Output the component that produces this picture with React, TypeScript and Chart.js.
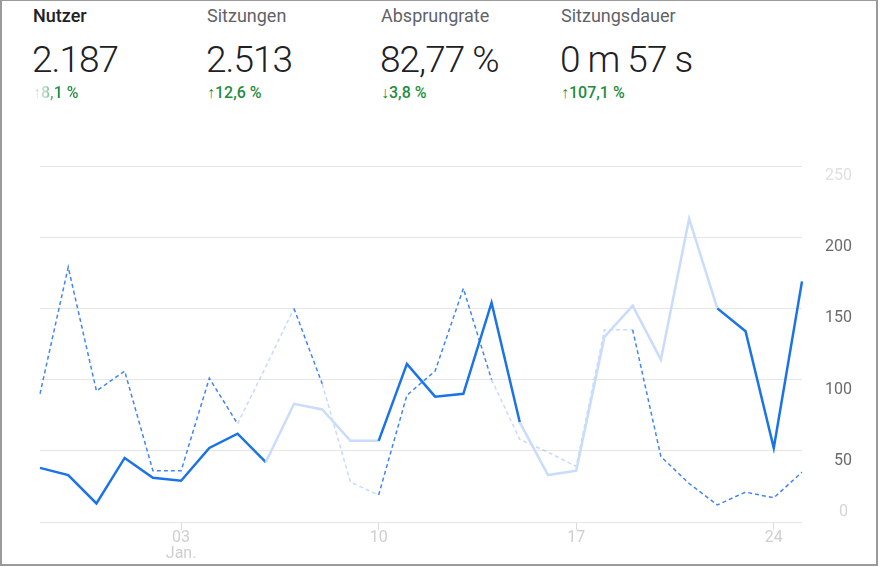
import React, { useEffect, useRef } from "react";
import { Chart, registerables } from "chart.js";

Chart.register(...registerables);

// ---- data ----
const days = [
  "29.12", "30.12", "31.12", "01.01", "02.01", "03.01", "04.01", "05.01", "06.01", "07.01",
  "08.01", "09.01", "10.01", "11.01", "12.01", "13.01", "14.01", "15.01", "16.01", "17.01",
  "18.01", "19.01", "20.01", "21.01", "22.01", "23.01", "24.01", "25.01",
];
const users = [38, 33, 13, 45, 31, 29, 52, 62, 42, 83, 79, 57, 57, 111, 88, 90, 154, 70, 33, 36, 130, 152, 114, 213, 150, 134, 52, 169];
const usersPrev = [90, 179, 92, 106, 36, 36, 101, 69, 109, 150, 97, 28, 19, 89, 106, 164, 100, 58, 49, 39, 135, 135, 46, 27, 12, 21, 17, 35];
const xTickLabels: (string | string[])[] = [
  "", "", "", "", "", ["03", "Jan."], "", "", "", "", "", "", "10", "", "", "", "", "", "", "17",
  "", "", "", "", "", "", "24", "",
];
const yTicks = [0, 50, 100, 150, 200, 250];

const kpiLabels = ["Nutzer", "Sitzungen", "Absprungrate", "Sitzungsdauer"];
const kpiValues = ["2.187", "2.513", "82,77 %", "0 m 57 s"];
const kpiChanges = ["↑8,1 %", "↑12,6 %", "↓3,8 %", "↑107,1 %"];

// ---- styles (fading of segments, as in the screenshot) ----
const fadedUsers = new Set([8, 9, 10, 11, 17, 18, 19, 20, 21, 22, 23]);
const fadedPrev = new Set([7, 8, 10, 11, 16, 17, 18, 19, 20]);
const kpiX = [33, 207, 381, 561];

const FONT = "Roboto, 'Noto Sans', sans-serif";
const GREEN = "#1e8e3e";

export default function App() {
  const ref = useRef<HTMLCanvasElement | null>(null);

  useEffect(() => {
    if (!ref.current) return;
    const zeroLabel = {
      id: "zeroLabel",
      afterDraw(chart: any) {
        const s = chart.scales.y;
        const ctx = chart.ctx;
        ctx.save();
        ctx.font = `16px ${FONT}`;
        ctx.fillStyle = "#d6d6d6";
        ctx.textAlign = "right";
        ctx.textBaseline = "middle";
        ctx.fillText(String(yTicks[0]), 848, s.getPixelForValue(yTicks[0]) - 10);
        ctx.restore();
      },
    };
    const chart = new Chart(ref.current, {
      type: "line",
      data: {
        labels: days,
        datasets: [
          {
            label: "Nutzer",
            data: users,
            borderColor: "#1a73e8",
            borderWidth: 2.5,
            pointRadius: 0,
            tension: 0,
            segment: {
              borderColor: (c: any) => (fadedUsers.has(c.p0DataIndex) ? "#c9dcfb" : "#1a73e8"),
            },
          },
          {
            label: "Nutzer (Vorperiode)",
            data: usersPrev,
            borderColor: "#4285f4",
            borderWidth: 1.5,
            borderDash: [4, 3],
            pointRadius: 0,
            tension: 0,
            segment: {
              borderColor: (c: any) => (fadedPrev.has(c.p0DataIndex) ? "rgba(66,133,244,0.3)" : "#4285f4"),
            },
          },
        ],
      },
      options: {
        animation: false,
        responsive: false,
        layout: { padding: { left: 40, right: 28, top: 36, bottom: 0 } },
        plugins: { legend: { display: false }, tooltip: { enabled: false } },
        scales: {
          x: {
            type: "category",
            offset: false,
            border: { display: false },
            grid: {
              drawOnChartArea: false,
              drawTicks: true,
              tickLength: 8,
              color: (c: any) => (xTickLabels[c.index] ? "#dcdcdc" : "transparent"),
            },
            ticks: {
              autoSkip: false,
              maxRotation: 0,
              padding: 0,
              color: "#cfcfcf",
              font: { family: FONT, size: 16, lineHeight: 1 },
              callback: (_v: any, i: number) => xTickLabels[i],
            },
            afterFit: (s: any) => {
              s.height = 45;
            },
          },
          y: {
            position: "right",
            min: 0,
            max: 250,
            border: { display: false },
            grid: { color: "#e6e6e6", drawTicks: false },
            afterBuildTicks: (s: any) => {
              s.ticks = yTicks.map((v) => ({ value: v }));
            },
            ticks: {
              padding: 19,
              crossAlign: "far",
              labelOffset: 10,
              font: { family: FONT, size: 16 },
              color: (c: any) => (c.tick && c.tick.value === 250 ? "#e0e0e0" : "#6b6b6b"),
              callback: (v: any) => (v === 0 ? "" : String(v)),
            },
            afterFit: (s: any) => {
              s.width = 50;
            },
          },
        },
      },
      plugins: [zeroLabel],
    } as any);
    return () => chart.destroy();
  }, []);

  return (
    <div style={{ position: "fixed", left: 0, top: 0, width: 880, height: 567, background: "#fff", fontFamily: FONT }}>
      <div
        style={{
          position: "absolute",
          left: 0,
          top: 0,
          width: 878,
          height: 566,
          boxSizing: "border-box",
          borderStyle: "solid",
          borderColor: "#9a9a9a",
          borderWidth: "1px 2px 2px 2px",
        }}
      />
      {kpiLabels.map((l, i) => (
        <React.Fragment key={l}>
          <div
            style={{
              position: "absolute",
              left: kpiX[i],
              top: 7,
              fontSize: 18,
              lineHeight: "18px",
              fontWeight: i === 0 ? 500 : 400,
              color: i === 0 ? "#202124" : "#5f6368",
              whiteSpace: "nowrap",
            }}
          >
            {l}
          </div>
          <div
            style={{
              position: "absolute",
              left: kpiX[i] - 1,
              top: 41,
              fontSize: 37,
              lineHeight: "37px",
              letterSpacing: "-1px",
              fontWeight: 300,
              color: "#202124",
              whiteSpace: "nowrap",
            }}
          >
            {kpiValues[i]}
          </div>
          <div
            style={{
              position: "absolute",
              left: kpiX[i],
              top: 85,
              fontSize: 16,
              lineHeight: "16px",
              fontWeight: 500,
              whiteSpace: "nowrap",
              color: i === 0 ? "transparent" : GREEN,
              ...(i === 0
                ? {
                    backgroundImage:
                      "linear-gradient(90deg, rgba(30,142,62,0.2) 0px, rgba(30,142,62,0.3) 12px, " + GREEN + " 24px)",
                    WebkitBackgroundClip: "text",
                    backgroundClip: "text",
                  }
                : {}),
            }}
          >
            {kpiChanges[i]}
          </div>
        </React.Fragment>
      ))}
      <canvas ref={ref} width={880} height={437} style={{ position: "absolute", left: 0, top: 130, width: 880, height: 437 }} />
    </div>
  );
}
